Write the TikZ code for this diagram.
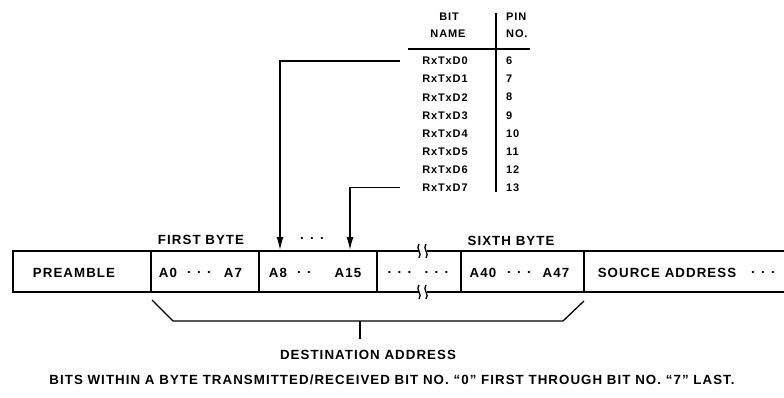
\documentclass[tikz,border=0pt]{standalone}
\usepackage{fontspec}
\setmainfont{Liberation Sans}
\newfontfamily\widesans[Ligatures=TeX,LetterSpace=8]{Liberation Sans}
\usetikzlibrary{arrows.meta}

\begin{document}
\begin{tikzpicture}[x=1pt,y=-1pt,
  cell/.style={inner sep=0pt,font=\widesans\bfseries\fontsize{13.3}{15}\selectfont},
  tab/.style={inner sep=0pt,font=\widesans\bfseries\fontsize{11}{12}\selectfont},
  heavy/.style={line width=2pt},
  thin/.style={line width=1.3pt}]
\useasboundingbox (0,0) rectangle (784,398);

% frame, broken between the bytes
\draw[heavy] (12,251) -- (419,251);
\draw[heavy] (427,251) -- (784,251);
\draw[heavy] (12,292) -- (419,292);
\draw[heavy] (427,292) -- (784,292);
\foreach \x in {13,151,259,377,461,584}
  \draw[thin] (\x,251) -- (\x,292);
\foreach \x in {419,426} {
  \draw[thin] (\x,244) .. controls (\x-4,248) and (\x+4,254) .. (\x,258);
  \draw[thin] (\x,285) .. controls (\x-4,289) and (\x+4,295) .. (\x,299);
}

\node[cell] (pre) at (74,273) {PREAMBLE};
\node[cell] (a0) at (168,273) {A0};
\node[cell] (a0dots) at (199,273) {. . .};
\node[cell] (a7) at (233,273) {A7};
\node[cell] (a8) at (278,273) {A8};
\node[cell] (a8dots) at (304,273) {. .};
\node[cell] (a15) at (348,273) {A15};
\node[cell] (gapdots) at (418,273) {. . .\quad . . .};
\node[cell] (a40) at (483,273) {A40};
\node[cell] (a40dots) at (519,273) {. . .};
\node[cell] (a47) at (556,273) {A47};
\node[cell] (src) at (667,273) {SOURCE ADDRESS};
\node[cell] (srcdots) at (763,273) {. . .};

\node[cell] (first) at (201,240) {FIRST BYTE};
\node[cell] (topdots) at (312,239) {. . .};
\node[cell] (sixth) at (511,241) {SIXTH BYTE};

% pin table
\node[tab] (bit) at (449,17) {BIT};
\node[tab] (name) at (448,34) {NAME};
\node[tab,anchor=west] (pin) at (506,17) {PIN};
\node[tab,anchor=west] (no) at (506,34) {NO.};
\draw[thin] (408,49) -- (530,49);
\draw[thin] (496,13) -- (496,192);
\foreach \i/\p in {0/6,1/7,2/8,3/9,4/10,5/11,6/12,7/13} {
  \node[tab] (d\i) at (445,61+18.1*\i) {RxTxD\i};
  \node[tab,anchor=west] (p\i) at (506,61+18.1*\i) {\p};
}

\coordinate (tipA) at (280,250);
\coordinate (tipB) at (350,250);
\draw[thin,-{Latex[length=13pt,width=7pt]}] ([xshift=-22pt]d0.west) -| (tipA);
\draw[thin,-{Latex[length=13pt,width=7pt]}] ([xshift=-22pt]d7.west) -| (tipB);

% destination address bracket
\node[cell] (dest) at (368,355) {DESTINATION ADDRESS};
\coordinate (tick) at (360,339);
\draw[thin] (152,300) -- (173,321) -- (563,321) -- (584,301);
\draw[thin] (360,321) -- (tick);

\node[cell] (note) at (392,380) {BITS WITHIN A BYTE TRANSMITTED/RECEIVED BIT NO. ``0'' FIRST THROUGH BIT NO. ``7'' LAST.};
\end{tikzpicture}
\end{document}
